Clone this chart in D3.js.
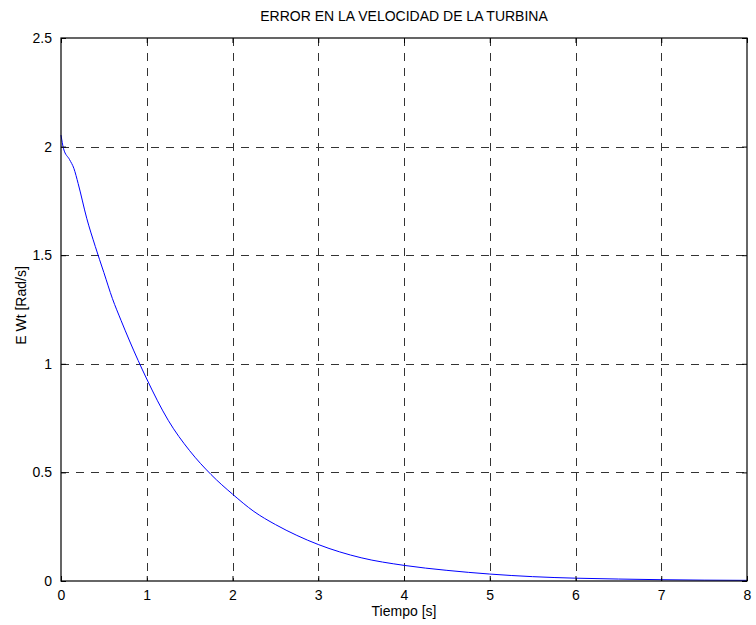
<!DOCTYPE html>
<html>
<head>
<meta charset="utf-8">
<script src="https://cdn.jsdelivr.net/npm/d3@7"></script>
<style>
  body { margin: 0; background: #fff; }
  text { font-family: "Liberation Sans", Arial, sans-serif; fill: #000; }
</style>
</head>
<body>
<div id="chart"></div>
<script>
// data
const tiempo = [0, 0.03, 0.1, 0.15, 0.2, 0.3, 0.4, 0.5, 0.6, 0.7, 0.8, 0.9, 1.0, 1.25, 1.5, 1.75, 2.0, 2.25, 2.5, 2.75, 3.0, 3.5, 4.0, 4.5, 5.0, 5.5, 6.0, 6.5, 7.0, 7.5, 8.0];
const errorWt = [2.053, 1.99, 1.94, 1.9, 1.83, 1.67, 1.54, 1.42, 1.3, 1.2, 1.105, 1.015, 0.93, 0.74, 0.6, 0.49, 0.4, 0.32, 0.26, 0.21, 0.168, 0.107, 0.072, 0.049, 0.032, 0.02, 0.013, 0.009, 0.006, 0.004, 0.003];
const xTicks = [0, 1, 2, 3, 4, 5, 6, 7, 8];
const yTicks = [0, 0.5, 1, 1.5, 2, 2.5];

const width = 756, height = 625;
const margin = { top: 38, right: 9, bottom: 44, left: 61 };

const svg = d3.select("#chart").append("svg")
  .attr("width", width)
  .attr("height", height);

const x = d3.scaleLinear().domain([0, 8]).range([margin.left, width - margin.right]);
const y = d3.scaleLinear().domain([0, 2.5]).range([height - margin.bottom, margin.top]);

// grid
svg.append("g")
  .selectAll("line")
  .data(xTicks.slice(1, -1))
  .join("line")
  .attr("x1", d => Math.round(x(d)) + 0.5).attr("x2", d => Math.round(x(d)) + 0.5)
  .attr("y1", y(2.5)).attr("y2", y(0))
  .attr("stroke", "#333")
  .attr("stroke-dasharray", "8,7");

svg.append("g")
  .selectAll("line")
  .data(yTicks.slice(1, -1))
  .join("line")
  .attr("y1", d => Math.round(y(d)) + 0.5).attr("y2", d => Math.round(y(d)) + 0.5)
  .attr("x1", x(0)).attr("x2", x(8))
  .attr("stroke", "#333")
  .attr("stroke-dasharray", "8,7");

// curve
const line = d3.line()
  .x((d, i) => x(tiempo[i]))
  .y(d => y(d))
  .curve(d3.curveMonotoneX);

svg.append("path")
  .datum(errorWt)
  .attr("d", line)
  .attr("fill", "none")
  .attr("stroke", "#0000ff")
  .attr("stroke-width", 1);

// axes (ticks inward, box on)
const tickLen = 5;
svg.append("g")
  .attr("transform", `translate(0,${y(0)})`)
  .call(d3.axisBottom(x).tickValues(xTicks).tickSize(-tickLen).tickPadding(9).tickFormat(d3.format("d")))
  .call(g => g.select(".domain").remove());
svg.append("g")
  .attr("transform", `translate(0,${y(2.5)})`)
  .call(d3.axisTop(x).tickValues(xTicks).tickSize(-tickLen).tickFormat(""))
  .call(g => g.select(".domain").remove());
svg.append("g")
  .attr("transform", `translate(${x(0)},0)`)
  .call(d3.axisLeft(y).tickValues(yTicks).tickSize(-tickLen).tickPadding(9).tickFormat(d => d))
  .call(g => g.select(".domain").remove());
svg.append("g")
  .attr("transform", `translate(${x(8)},0)`)
  .call(d3.axisRight(y).tickValues(yTicks).tickSize(-tickLen).tickFormat(""))
  .call(g => g.select(".domain").remove());

svg.selectAll(".tick text")
  .style("font-family", "'Liberation Sans', Arial, sans-serif")
  .style("font-size", "14px")
  .attr("fill", "#000");

svg.append("rect")
  .attr("x", x(0)).attr("y", y(2.5))
  .attr("width", x(8) - x(0)).attr("height", y(0) - y(2.5))
  .attr("fill", "none")
  .attr("stroke", "#000")
  .attr("stroke-width", 1.2);

// labels
svg.append("text")
  .attr("x", (x(0) + x(8)) / 2)
  .attr("y", 21)
  .attr("text-anchor", "middle")
  .style("font-size", "14px")
  .text("ERROR EN LA VELOCIDAD DE LA TURBINA");

svg.append("text")
  .attr("x", (x(0) + x(8)) / 2)
  .attr("y", 616)
  .attr("text-anchor", "middle")
  .style("font-size", "14px")
  .text("Tiempo [s]");

svg.append("text")
  .attr("transform", `translate(26,${(y(0) + y(2.5)) / 2 - 4}) rotate(-90)`)
  .attr("text-anchor", "middle")
  .style("font-size", "14px")
  .text("E Wt [Rad/s]");
</script>
</body>
</html>
